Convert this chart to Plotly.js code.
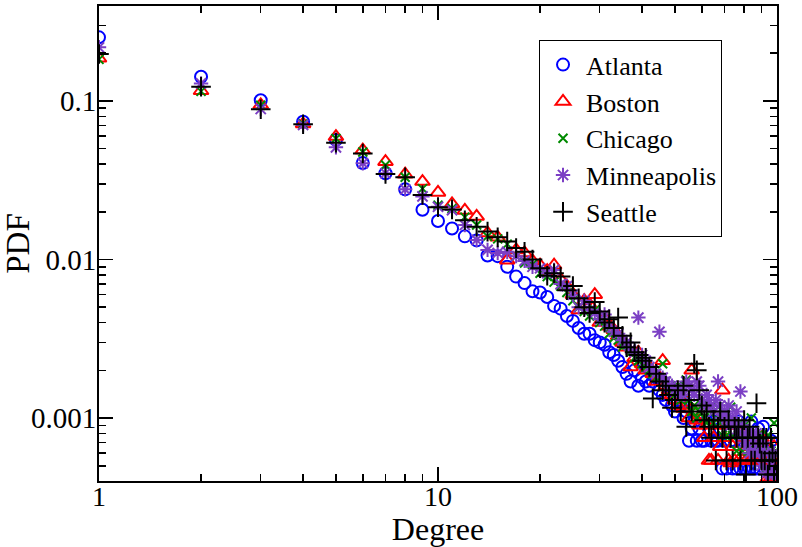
<!DOCTYPE html>
<html>
<head>
<meta charset="utf-8">
<script src="https://cdn.plot.ly/plotly-3.0.1.min.js"></script>
<style>
  html, body { margin: 0; padding: 0; background: #ffffff; }
  #chart { width: 802px; height: 547px; }
</style>
</head>
<body>
<div id="chart"></div>
<script>
// Degree values k = 1..100
const degrees = [
  1,2,3,4,5,6,7,8,9,10,11,12,13,14,15,16,17,18,19,20,
  21,22,23,24,25,26,27,28,29,30,31,32,33,34,35,36,37,38,39,40,
  41,42,43,44,45,46,47,48,49,50,51,52,53,54,55,56,57,58,59,60,
  61,62,63,64,65,66,67,68,69,70,71,72,73,74,75,76,77,78,79,80,
  81,82,83,84,85,86,87,88,89,90,91,92,93,94,95,96,97,98,99,100
];

const atlanta = [
  0.252,0.142,0.101,0.074,0.0568,0.0406,0.035,0.0277,0.0206,0.0175,
  0.0157,0.0140,0.0132,0.0106,0.0105,0.0090,0.0078,0.0071,0.0063,0.0062,
  0.0058,0.0051,0.0049,0.0044,0.0041,0.0037,0.0034,0.0034,0.0031,0.0030,
  0.0029,0.0026,0.0025,0.0023,0.0021,0.0019,0.0017,0.0020,0.0016,0.0018,
  0.0017,0.0016,0.0017,0.0018,0.0015,0.0014,0.0013,0.0014,0.0012,0.0011,
  0.0013,0.0012,0.0010,0.0011,0.00072,0.00086,0.00095,0.00072,0.00086,0.00072,
  0.00072,0.00095,0.00086,0.00072,0.00095,0.00072,0.00072,0.00086,0.00048,0.00072,
  0.00048,0.00095,0.00072,0.00048,0.00072,0.00048,0.00095,0.00048,0.00072,0.00048,
  0.00048,0.00072,0.00048,0.00095,0.00048,0.00072,0.00048,0.00086,0.00048,0.00072,
  0.00088,0.00048,0.00072,0.00048,0.00048,0.00072,0.00048,0.00048,0.00048,0.00048
];

const boston = [
  0.186,0.116,0.0944,0.0716,0.0596,0.049,0.0414,0.0345,0.031,0.0265,
  0.0224,0.0204,0.0187,0.0147,0.0138,0.0099,0.0115,0.0110,0.0098,0.0092,
  0.0085,0.0092,0.0075,0.0068,0.0060,0.0048,0.0055,0.0052,0.0060,0.0040,
  0.0043,0.0038,0.0036,0.0033,0.0030,0.0028,0.0021,0.0024,0.0026,0.0022,
  0.0020,0.0021,0.0019,0.0017,0.0018,0.0023,0.0016,0.0015,0.0014,0.0013,
  0.0012,0.0014,0.00115,0.0012,0.0010,0.0020,0.0011,0.00097,0.0009,0.0012,
  0.00075,0.0009,0.00054,0.00054,0.00075,0.0009,0.00054,0.00066,0.0015,0.00075,
  0.0009,0.00054,0.00052,0.00066,0.00054,0.0009,0.00054,0.00066,0.00054,0.00075,
  0.00054,0.00066,0.00054,0.00054,0.00075,0.00054,0.00066,0.00054,0.00054,0.00075,
  0.00054,0.00054,0.00066,0.00042,0.00054,0.00042,0.00054,0.00066,0.00042,0.00042
];

const chicago = [
  0.183,0.115,0.094,0.0716,0.058,0.0477,0.0395,0.033,0.028,0.022,
  0.021,0.0185,0.0165,0.014,0.0135,0.0125,0.0105,0.0095,0.0093,0.0082,
  0.0078,0.0072,0.0068,0.0062,0.0055,0.0050,0.0047,0.0044,0.0048,0.0040,
  0.0038,0.0034,0.0032,0.0031,0.0028,0.0029,0.0026,0.0024,0.0023,0.0022,
  0.0021,0.0020,0.0019,0.0018,0.0018,0.0022,0.0017,0.0016,0.0015,0.0014,
  0.0016,0.0013,0.0014,0.00174,0.0013,0.0011,0.0012,0.0010,0.0011,0.0012,
  0.0010,0.00093,0.0011,0.0012,0.00093,0.0010,0.00117,0.00093,0.00078,0.0010,
  0.00078,0.00093,0.00117,0.00078,0.00093,0.00062,0.00078,0.00093,0.00062,0.00078,
  0.00093,0.00062,0.00078,0.0010,0.00062,0.00078,0.00062,0.00078,0.00062,0.00078,
  0.00062,0.00047,0.00062,0.00078,0.00057,0.00062,0.00047,0.00093,0.00062,0.00047
];

const minneapolis = [
  0.218,0.129,0.089,0.0706,0.051,0.0405,0.035,0.0277,0.025,0.0215,
  0.0205,0.0165,0.0133,0.0115,0.011,0.0112,0.0105,0.0098,0.0090,0.0088,
  0.0082,0.0086,0.0070,0.0068,0.0060,0.0050,0.0055,0.0048,0.0046,0.0042,
  0.0045,0.0038,0.0035,0.0034,0.0031,0.0030,0.0027,0.0026,0.0043,0.0025,
  0.0023,0.0021,0.0020,0.0019,0.0035,0.0018,0.0017,0.0016,0.0016,0.0015,
  0.0014,0.0015,0.0014,0.0017,0.0016,0.0015,0.0014,0.0017,0.0016,0.0013,
  0.0012,0.0014,0.0013,0.0012,0.0011,0.0013,0.0017,0.0012,0.0010,0.0011,
  0.0010,0.0012,0.0009,0.0010,0.0009,0.0011,0.0008,0.00147,0.0009,0.0007,
  0.0008,0.00068,0.0006,0.0008,0.0007,0.0006,0.0008,0.00068,0.0006,0.0005,
  0.0007,0.0006,0.00045,0.0006,0.00045,0.0005,0.00045,0.0006,0.00045,0.00045
];

const seattle = [
  0.198,0.123,0.0886,0.0713,0.0546,0.0466,0.0346,0.033,0.0255,0.0214,
  0.0207,0.0177,0.0161,0.0150,0.0138,0.0130,0.0118,0.0112,0.0100,0.0088,
  0.0079,0.0082,0.0078,0.0064,0.0068,0.0057,0.0050,0.0046,0.0054,0.0047,
  0.0040,0.0042,0.0037,0.0043,0.0033,0.0028,0.0030,0.0026,0.0025,0.0023,
  0.0024,0.0021,0.00133,0.0019,0.0017,0.0015,0.0016,0.0014,0.00116,0.0013,
  0.0015,0.0011,0.0016,0.00088,0.0013,0.0011,0.0022,0.0020,0.0015,0.0012,
  0.00097,0.0011,0.00088,0.00075,0.00097,0.00054,0.00088,0.0011,0.00075,0.00088,
  0.00054,0.00097,0.00075,0.00054,0.00088,0.00075,0.00088,0.00054,0.00075,0.00097,
  0.00044,0.00075,0.00088,0.00054,0.00075,0.00054,0.00124,0.00075,0.00069,0.00054,
  0.00075,0.00054,0.00075,0.00044,0.00054,0.00075,0.0006,0.00044,0.00054,0.00044
];

const seriesNames = ["Atlanta", "Boston", "Chicago", "Minneapolis", "Seattle"];
const xTickVals = [1, 10, 100];
const xTickText = ["1", "10", "100"];
const yTickVals = [0.001, 0.01, 0.1];
const yTickText = ["0.001", "0.01", "0.1"];

const allSeries = [atlanta, boston, chicago, minneapolis, seattle];
const styles = [
  {symbol: "circle-open", color: "#0000ff", size: 12, lw: 2},
  {symbol: "triangle-up-open", color: "#ff0000", size: 13, lw: 2},
  {symbol: "x-thin-open", color: "#008a00", size: 9, lw: 2},
  {symbol: "asterisk-open", color: "#7b3fc4", size: 12, lw: 2},
  {symbol: "cross-thin-open", color: "#000000", size: 14, lw: 2}
];

const traces = allSeries.map((vals, i) => ({
  type: "scatter",
  mode: "markers",
  name: seriesNames[i],
  x: degrees,
  y: vals,
  cliponaxis: true,
  marker: {
    symbol: styles[i].symbol,
    size: styles[i].size,
    color: styles[i].color,
    line: {color: styles[i].color, width: styles[i].lw}
  }
}));

const FONT = "'Liberation Serif', 'Times New Roman', serif";

const axisCommon = {
  showgrid: false,
  zeroline: false,
  showline: true,
  linecolor: "#000000",
  linewidth: 2,
  mirror: "ticks",
  ticks: "inside",
  ticklen: 14,
  tickwidth: 1.5,
  tickcolor: "#000000",
  minor: {ticks: "inside", ticklen: 7, tickwidth: 1.5, tickcolor: "#000000", dtick: "D1", showgrid: false}
};

const layout = {
  width: 802,
  height: 547,
  margin: {l: 99, r: 25, t: 6, b: 66},
  paper_bgcolor: "#ffffff",
  plot_bgcolor: "#ffffff",
  showlegend: true,
  legend: {
    x: 0.649, y: 0.928, xanchor: "left", yanchor: "top",
    bgcolor: "#ffffff",
    bordercolor: "#000000",
    borderwidth: 1,
    itemwidth: 36,
    font: {family: FONT, size: 26, color: "#000000"},
    tracegroupgap: 0
  },
  xaxis: Object.assign({}, axisCommon, {
    type: "log",
    range: [0, 2],
    tickmode: "array",
    tickvals: xTickVals,
    ticktext: xTickText,
    ticklabelstandoff: -11,
    tickfont: {family: FONT, size: 28, color: "#000000"},
    title: {text: "Degree", font: {family: FONT, size: 32, color: "#000000"}, standoff: 0}
  }),
  yaxis: Object.assign({}, axisCommon, {
    type: "log",
    range: [-3.397, -0.401],
    tickmode: "array",
    tickvals: yTickVals,
    ticktext: yTickText,
    ticklabelstandoff: -5,
    tickfont: {family: FONT, size: 29, color: "#000000"},
    title: {text: "PDF", font: {family: FONT, size: 33, color: "#000000"}, standoff: 2}
  })
};

Plotly.newPlot("chart", traces, layout, {displayModeBar: false, staticPlot: true});
</script>
</body>
</html>
